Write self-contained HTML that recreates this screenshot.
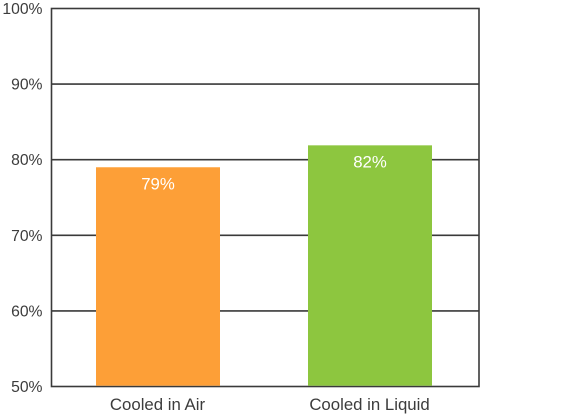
<!DOCTYPE html>
<html>
<head>
<meta charset="utf-8">
<style>
html,body{margin:0;padding:0;background:#fff;width:566px;height:416px;overflow:hidden}
svg{display:block}
text{font-family:"Liberation Sans",sans-serif;font-size:16.8px}
text.tick{font-size:15.7px}
</style>
</head>
<body>
<svg id="chart" width="566" height="416" viewBox="0 0 566 416" xmlns="http://www.w3.org/2000/svg"></svg>
<script>
const categories = ["Cooled in Air", "Cooled in Liquid"];
const values = [79, 81.9];
const valueLabels = ["79%", "82%"];
const barColors = ["#fd9f37", "#8dc63f"];
const ticks = [50, 60, 70, 80, 90, 100];
const tickLabels = ["50%", "60%", "70%", "80%", "90%", "100%"];

const NS = "http://www.w3.org/2000/svg";
const svg = document.getElementById("chart");
const plot = {left: 51.5, right: 479, top: 8.5, bottom: 386.5};
const yMin = 50, yMax = 100;
const slotStart = 158, slotStep = 212, barWidth = 124;

function y(v) { return plot.bottom - (v - yMin) / (yMax - yMin) * (plot.bottom - plot.top); }
function xCenter(i) { return slotStart + i * slotStep; }
function make(tag, attrs, text) {
  const el = document.createElementNS(NS, tag);
  for (const k in attrs) el.setAttribute(k, attrs[k]);
  if (text !== undefined) el.textContent = text;
  svg.appendChild(el);
  return el;
}

ticks.forEach(function (t, i) {
  if (t !== yMin && t !== yMax) {
    const grid = make("line", {x1: plot.left, x2: plot.right, y1: y(t), y2: y(t), stroke: "#3a3a3a", "stroke-width": 1.6});
    
    
  }
  const label = make("text", {class: "tick", x: 42.5, y: y(t) + 5.5, "text-anchor": "end", fill: "#3c3c3c"}, tickLabels[i]);
  
  
});

const frame = make("rect", {x: plot.left, y: plot.top, width: plot.right - plot.left, height: plot.bottom - plot.top, fill: "none", stroke: "#3a3a3a", "stroke-width": 1.6});



categories.forEach(function (c, i) {
  const top = y(values[i]);
  const bar = make("rect", {x: xCenter(i) - barWidth / 2, y: top, width: barWidth, height: plot.bottom - 0.8 - top, fill: barColors[i]});
  
  

  const value = make("text", {x: xCenter(i), y: top + 22, "text-anchor": "middle", fill: "#ffffff"}, valueLabels[i]);
  
  

  const cat = make("text", {x: xCenter(i) - 0.5, y: 410, "text-anchor": "middle", fill: "#3c3c3c"}, c);
  
  
});
</script>
</body>
</html>
